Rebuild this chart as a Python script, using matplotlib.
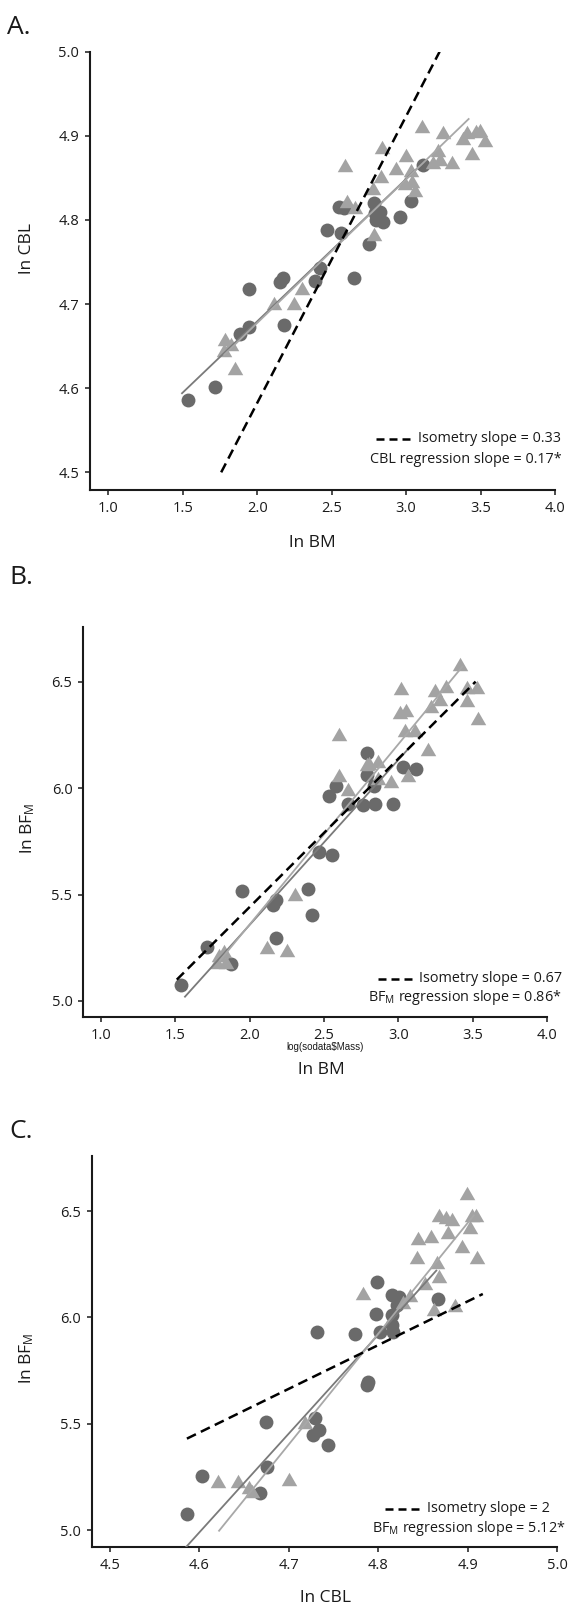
import matplotlib.pyplot as plt
from matplotlib.lines import Line2D

plt.rcParams['font.family'] = ['Open Sans', 'DejaVu Sans']
plt.rcParams['mathtext.fontset'] = 'custom'
plt.rcParams['mathtext.rm'] = 'Open Sans'
plt.rcParams['mathtext.it'] = 'Open Sans:italic'

# ---- panel A: ln BM vs ln CBL ----
a_circ_x = [1.536, 1.714, 1.885, 1.948, 1.948, 2.153, 2.172, 2.177, 2.391, 2.421, 2.470, 2.548,
            2.580, 2.560, 2.648, 2.750, 2.787, 2.799, 2.823, 2.848, 2.957, 3.030, 3.116, 2.790]
a_circ_y = [4.586, 4.602, 4.665, 4.673, 4.718, 4.726, 4.731, 4.675, 4.728, 4.743, 4.788, 4.815,
            4.814, 4.785, 4.731, 4.772, 4.820, 4.800, 4.810, 4.798, 4.804, 4.823, 4.865, 4.808]
a_tri_x = [1.787, 1.824, 1.775, 1.848, 2.110, 2.245, 2.300, 2.590, 2.600, 2.655, 2.775, 2.787,
           2.830, 2.840, 2.935, 2.998, 2.994, 3.030, 3.040, 3.060, 3.105, 3.180, 3.215, 3.228,
           3.250, 3.306, 3.383, 3.410, 3.445, 3.470, 3.493, 3.530]
a_tri_y = [4.659, 4.653, 4.645, 4.624, 4.701, 4.701, 4.719, 4.865, 4.822, 4.815, 4.838, 4.783,
           4.852, 4.887, 4.862, 4.877, 4.844, 4.859, 4.846, 4.836, 4.912, 4.869, 4.883, 4.873,
           4.905, 4.869, 4.898, 4.904, 4.879, 4.906, 4.907, 4.895]
a_iso_x, a_iso_y = [1.758, 3.225], [4.50, 5.00]
a_fitc_x, a_fitc_y = [1.495, 3.12], [4.594, 4.869]
a_fitt_x, a_fitt_y = [1.78, 3.42], [4.640, 4.920]

# ---- panel B: ln BM vs ln BFm ----
b_circ_x = [1.535, 1.710, 1.876, 1.949, 2.156, 2.180, 2.180, 2.392, 2.416, 2.467, 2.552,
            2.533, 2.582, 2.660, 2.760, 2.791, 2.791, 2.839, 2.840, 2.965, 3.032, 3.117]
b_circ_y = [5.075, 5.253, 5.173, 5.515, 5.453, 5.473, 5.298, 5.527, 5.404, 5.701, 5.685,
            5.962, 6.011, 5.927, 5.921, 6.167, 6.060, 6.011, 5.927, 5.927, 6.101, 6.089]
b_tri_x = [1.779, 1.791, 1.827, 1.839, 2.119, 2.253, 2.308, 2.600, 2.600, 2.660, 2.790,
           2.806, 2.863, 2.863, 2.950, 3.009, 3.020, 3.054, 3.043, 3.065, 3.110, 3.200,
           3.223, 3.245, 3.279, 3.324, 3.414, 3.459, 3.459, 3.527, 3.539]
b_tri_y = [5.184, 5.217, 5.233, 5.184, 5.252, 5.237, 5.504, 6.252, 6.060, 5.995, 6.114,
           6.116, 6.127, 6.046, 6.035, 6.359, 6.470, 6.367, 6.273, 6.062, 6.273, 6.185,
           6.387, 6.462, 6.418, 6.478, 6.582, 6.474, 6.416, 6.474, 6.327]
b_iso_x, b_iso_y = [1.51, 3.52], [5.10, 6.50]
b_fitc_x, b_fitc_y = [1.565, 3.10], [5.02, 6.21]
b_fitt_x, b_fitt_y = [1.80, 3.43], [5.19, 6.57]

# ---- panel C: ln CBL vs ln BFm ----
c_circ_x = [4.586, 4.603, 4.668, 4.676, 4.675, 4.729, 4.727, 4.734, 4.744, 4.732, 4.774, 4.789,
            4.787, 4.799, 4.798, 4.802, 4.815, 4.815, 4.817, 4.815, 4.823, 4.821, 4.867]
c_circ_y = [5.075, 5.253, 5.173, 5.295, 5.510, 5.527, 5.445, 5.470, 5.400, 5.929, 5.921, 5.698,
            5.682, 6.167, 6.016, 5.929, 6.011, 5.962, 5.929, 6.105, 6.097, 6.057, 6.086]
c_tri_x = [4.621, 4.643, 4.656, 4.659, 4.700, 4.718, 4.783, 4.828, 4.836, 4.843, 4.845, 4.852,
           4.859, 4.862, 4.866, 4.868, 4.868, 4.876, 4.878, 4.882, 4.886, 4.894, 4.899, 4.903,
           4.905, 4.909, 4.911]
c_tri_y = [5.233, 5.233, 5.201, 5.184, 5.241, 5.510, 6.114, 6.073, 6.105, 6.282, 6.375, 6.163,
           6.383, 6.040, 6.260, 6.195, 6.481, 6.472, 6.399, 6.464, 6.057, 6.334, 6.586, 6.423,
           6.480, 6.480, 6.282]
c_iso_x, c_iso_y = [4.586, 4.917], [5.43, 6.11]
c_fitc_x, c_fitc_y = [4.585, 4.865], [4.92, 6.22]
c_fitt_x, c_fitt_y = [4.622, 4.907], [4.997, 6.48]

bm_ticks = [1.0, 1.5, 2.0, 2.5, 3.0, 3.5, 4.0]
cbl_yticks = [4.5, 4.6, 4.7, 4.8, 4.9, 5.0]
bf_ticks = [5.0, 5.5, 6.0, 6.5]
cbl_xticks = [4.5, 4.6, 4.7, 4.8, 4.9, 5.0]

BFM = r'BF$_\mathregular{M}$'
legend_a = ['Isometry slope = 0.33', 'CBL regression slope = 0.17*']
legend_b = ['Isometry slope = 0.67', BFM + ' regression slope = 0.86*']
legend_c = ['Isometry slope = 2', BFM + ' regression slope = 5.12*']

DARK = '#6a6a6a'
LIGHT = '#a3a3a3'
DARK_LINE = '#7a7a7a'
LIGHT_LINE = '#a8a8a8'
TXT = '#1a1a1a'
TRI = [(0, 0.866), (-1, -0.866), (1, -0.866)]

W, H = 569, 1609
fig = plt.figure(figsize=(W / 100, H / 100), dpi=100)


def fx(px):
    return px / W


def fy(py):
    return 1 - py / H


def panel(box, xlim, ylim, xticks, yticks, circ, tri, iso, fitc, fitt):
    left, top, right, bottom = box
    ax = fig.add_axes([fx(left), fy(bottom), (right - left) / W, (bottom - top) / H])
    ax.scatter(circ[0], circ[1], s=100, c=DARK, marker='o', linewidths=0, zorder=2)
    ax.scatter(tri[0], tri[1], s=125, c=LIGHT, marker=TRI, linewidths=0, zorder=2)
    ax.plot(fitc[0], fitc[1], color=DARK_LINE, lw=1.3, zorder=3)
    ax.plot(fitt[0], fitt[1], color=LIGHT_LINE, lw=1.3, zorder=3)
    ax.plot(iso[0], iso[1], color='black', lw=1.8, dashes=(4, 2.2), zorder=4)
    ax.set_xlim(xlim)
    ax.set_ylim(ylim)
    ax.set_xticks(xticks)
    ax.set_yticks(yticks)
    ax.xaxis.set_major_formatter('{x:.1f}')
    ax.yaxis.set_major_formatter('{x:.1f}')
    for s in ['top', 'right']:
        ax.spines[s].set_visible(False)
    for s in ['left', 'bottom']:
        ax.spines[s].set_linewidth(1.5)
        ax.spines[s].set_color(TXT)
    ax.tick_params(direction='out', length=3.3, width=1.1, labelsize=10.5, pad=4.5,
                   color=TXT, labelcolor=TXT)
    return ax


def key(lines, y1, y2, dash, x_text1, x_text2):
    # legende recznie: przerywana kreska + dwa wiersze tekstu
    fig.add_artist(Line2D([fx(dash[0]), fx(dash[1])], [fy(y1), fy(y1)], color='black',
                          lw=1.8, dashes=(3.2, 2.0), transform=fig.transFigure))
    fig.text(fx(x_text1), fy(y1), lines[0], ha='left', va='center', fontsize=10.4, color=TXT)
    fig.text(fx(x_text2), fy(y2), lines[1], ha='right', va='center', fontsize=10.4, color=TXT)


# panel A
panel((90, 51.7, 555, 490), (0.877, 4.0), (4.479, 5.0), bm_ticks, cbl_yticks,
      (a_circ_x, a_circ_y), (a_tri_x, a_tri_y), (a_iso_x, a_iso_y),
      (a_fitc_x, a_fitc_y), (a_fitt_x, a_fitt_y))
key(legend_a, 439, 460, (376, 410), 417.6, 562)
fig.text(fx(27), fy(248), 'ln CBL', rotation=90, ha='center', va='center', fontsize=12.5, color=TXT)
fig.text(fx(312), fy(543), 'ln BM', ha='center', va='center', fontsize=12.5, color=TXT)
fig.text(fx(7), fy(34.3), 'A.', ha='left', va='baseline', fontsize=19, color=TXT)

# panel B
panel((83.3, 626.7, 547, 1016.7), (0.881, 4.0), (4.926, 6.758), bm_ticks, bf_ticks,
      (b_circ_x, b_circ_y), (b_tri_x, b_tri_y), (b_iso_x, b_iso_y),
      (b_fitc_x, b_fitc_y), (b_fitt_x, b_fitt_y))
key(legend_b, 979, 998, (377.6, 412), 419, 562)
fig.text(fx(28), fy(828), 'ln ' + BFM, rotation=90, ha='center', va='center', fontsize=12.5, color=TXT)
fig.text(fx(325), fy(1047), r'log(sodata\$Mass)', ha='center', va='center', fontsize=7,
         family=['Liberation Sans', 'DejaVu Sans'], color=TXT)
fig.text(fx(321), fy(1070), 'ln BM', ha='center', va='center', fontsize=12.5, color=TXT)
fig.text(fx(9), fy(584), 'B.', ha='left', va='baseline', fontsize=19, color=TXT)

# panel C
panel((91.7, 1155.7, 557, 1546.7), (4.4795, 5.0), (4.922, 6.76), cbl_xticks, bf_ticks,
      (c_circ_x, c_circ_y), (c_tri_x, c_tri_y), (c_iso_x, c_iso_y),
      (c_fitc_x, c_fitc_y), (c_fitt_x, c_fitt_y))
key(legend_c, 1509, 1529, (385, 421), 426.7, 566)
fig.text(fx(27), fy(1358), 'ln ' + BFM, rotation=90, ha='center', va='center', fontsize=12.5, color=TXT)
fig.text(fx(325), fy(1598), 'ln CBL', ha='center', va='center', fontsize=12.5, color=TXT)
fig.text(fx(9), fy(1137.7), 'C.', ha='left', va='baseline', fontsize=19, color=TXT)

fig.savefig('out.png', dpi=100, facecolor='white')
